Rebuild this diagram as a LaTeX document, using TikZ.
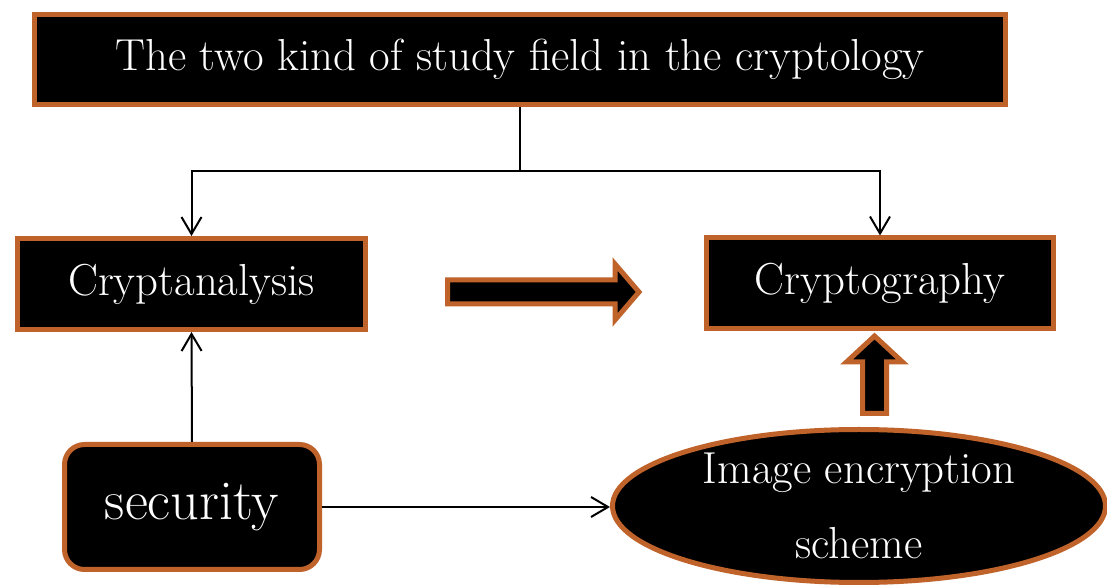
\documentclass[tikz,border=0pt]{standalone}
\usepackage{tikz}
\usetikzlibrary{arrows.meta}
\usetikzlibrary{shapes.geometric}
\definecolor{rust}{HTML}{C0632B}
\tikzset{box/.style = {draw=rust, fill=black, line width=0.1cm, text=white,
                       font=\fontsize{25.5}{30}\selectfont, inner sep=0pt}}
\tikzset{roundbox/.style = {box, rounded corners=0.4cm}}
\tikzset{oval/.style = {box, ellipse, align=center,
                        font=\fontsize{25.5}{43}\selectfont}}
\tikzset{link/.style = {line width=0.04cm,
                        -{Straight Barb[length=3.4mm, width=4mm]}}}
\tikzset{blockarrow/.style = {draw=rust, fill=black, line width=0.1cm}}

\begin{document}
\begin{tikzpicture}
      \useasboundingbox (0, 0) rectangle (22.14, 11.72);

      \node [box, minimum width=19.42cm, minimum height=1.8cm] (field) at (10.4, 10.53)
            {The two kind of study field in the cryptology};
      \node [box, minimum width=6.96cm, minimum height=1.82cm] (analysis) at (3.83, 6.04)
            {Cryptanalysis};
      \node [box, minimum width=6.94cm, minimum height=1.82cm] (graphy) at (17.6, 6.05)
            {Cryptography};
      \node [roundbox, minimum width=5.1cm, minimum height=2.5cm,
             font=\fontsize{32}{38}\selectfont] (security) at (3.84, 1.58) {security};
      \node [oval, minimum width=9.86cm, minimum height=3.06cm] (scheme) at (17.18, 1.6)
            {Image encryption\\scheme};

      \coordinate (split) at (10.4, 8.3);
      \draw [line width=0.04cm] (field.south) -- (split);
      \draw [link] (split) -| (analysis.north);
      \draw [link] (split) -| (graphy.north);
      \draw [link] (security.north) -- (analysis.south);
      \draw [link] (security.east) -- (security.east -| scheme.west);

      \draw [blockarrow] (8.95, 5.64) -- (12.3, 5.64) -- (12.3, 5.32) -- (12.78, 5.88)
            -- (12.3, 6.44) -- (12.3, 6.12) -- (8.95, 6.12) -- cycle;
      \draw [blockarrow] (17.25, 3.45) -- (17.25, 4.48) -- (16.93, 4.48) -- (17.49, 5.0)
            -- (18.05, 4.48) -- (17.73, 4.48) -- (17.73, 3.45) -- cycle;
    \end{tikzpicture}
\end{document}
